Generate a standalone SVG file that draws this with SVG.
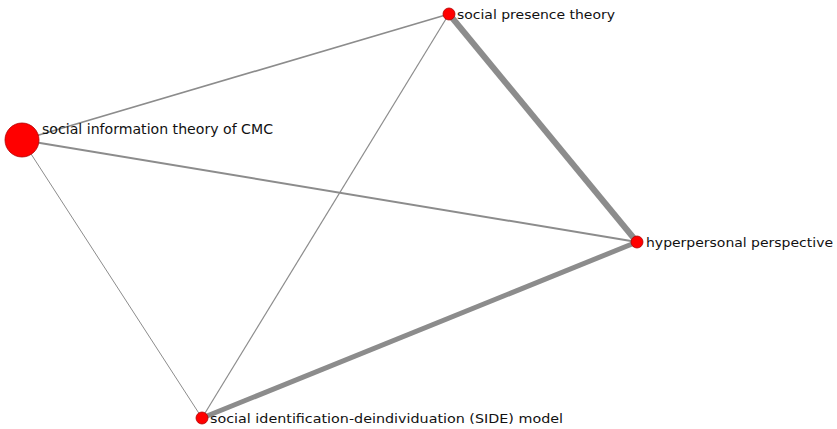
<svg xmlns="http://www.w3.org/2000/svg" width="837" height="429" viewBox="0 0 837 429">
<style>
.e{stroke:#8c8c8c;fill:none;stroke-linecap:butt}
.n{fill:#ff0000;stroke:#b00000;stroke-width:0.8}
.t{font-family:"DejaVu Sans",Verdana,sans-serif;font-size:13px;fill:#111}
</style>
<rect width="837" height="429" fill="#fff"/>
<g id="edges">
<line class="e" x1="22" y1="140" x2="449" y2="14" stroke-width="1.6"/>
<line class="e" x1="22" y1="140" x2="637" y2="242" stroke-width="2"/>
<line class="e" x1="22" y1="140" x2="202" y2="418" stroke-width="1" stroke="#a8a8a8"/>
<line class="e" x1="449" y1="14" x2="202" y2="418" stroke-width="1.2"/>
<line class="e" x1="449" y1="14" x2="637" y2="242" stroke-width="6"/>
<line class="e" x1="202" y1="418" x2="637" y2="242" stroke-width="5"/>
</g>
<g id="node-cmc">
<circle class="n" cx="22" cy="140" r="17"/>
<text class="t" x="42" y="134" style="font-size:14px" textLength="231" lengthAdjust="spacingAndGlyphs">social information theory of CMC</text>
</g>
<g id="node-presence">
<circle class="n" cx="449" cy="14" r="6"/>
<text class="t" x="457" y="19" textLength="158" lengthAdjust="spacingAndGlyphs">social presence theory</text>
</g>
<g id="node-hyper">
<circle class="n" cx="637" cy="242" r="6"/>
<text class="t" x="646" y="247" textLength="187" lengthAdjust="spacingAndGlyphs">hyperpersonal perspective</text>
</g>
<g id="node-side">
<circle class="n" cx="202" cy="418" r="6"/>
<text class="t" x="210" y="423" textLength="353" lengthAdjust="spacingAndGlyphs">social identification-deindividuation (SIDE) model</text>
</g>
</svg>
